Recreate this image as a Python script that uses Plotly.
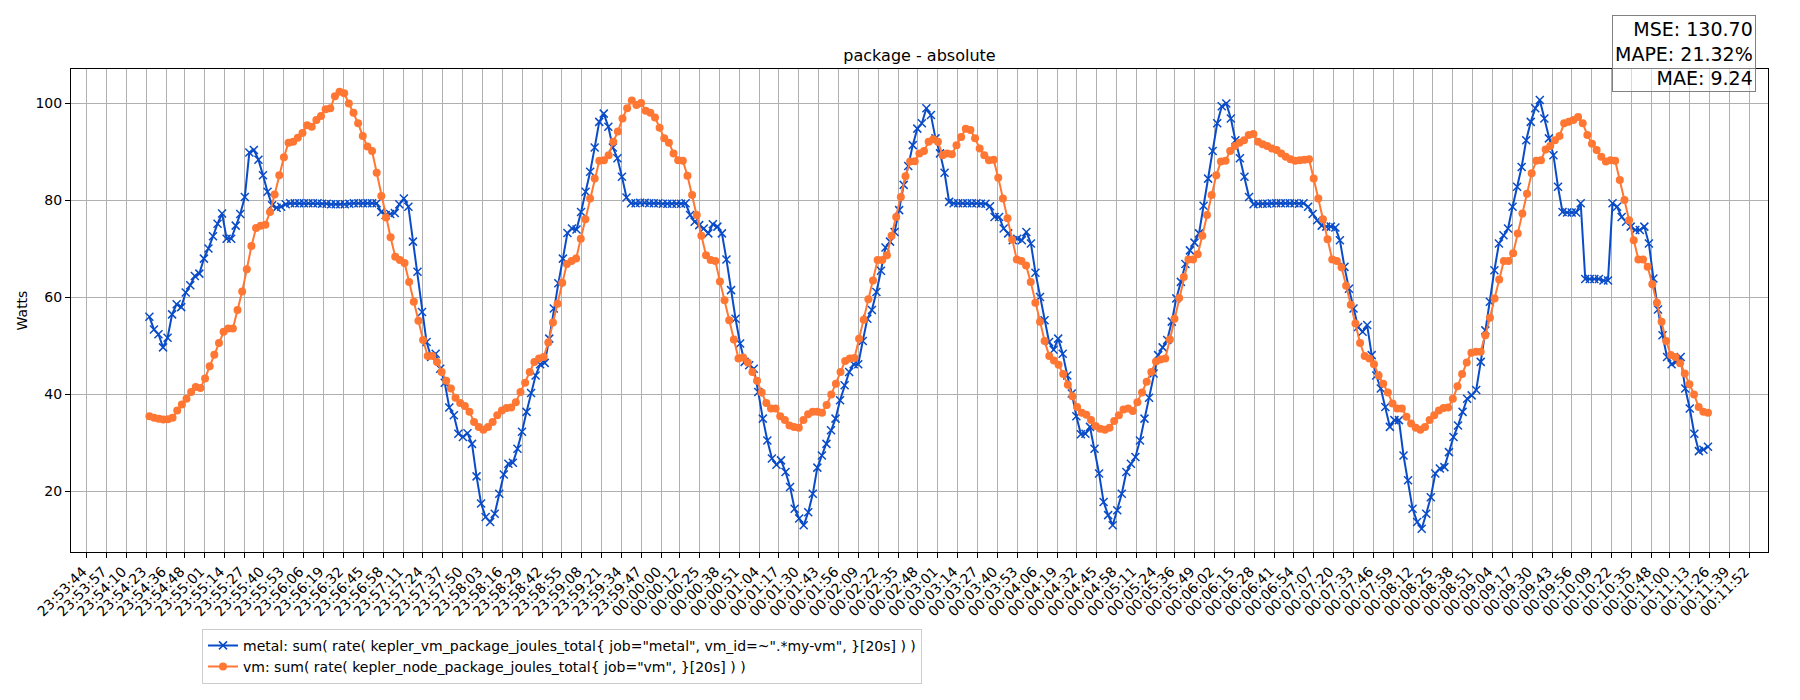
import pandas as pd
import plotly.graph_objects as go

# Textos del grafico
TITLE = "package - absolute"
Y_LABEL = "Watts"
METAL_LABEL = 'metal: sum( rate( kepler_vm_package_joules_total{ job="metal", vm_id=~".*my-vm", }[20s] ) )'
VM_LABEL = 'vm: sum( rate( kepler_node_package_joules_total{ job="vm", }[20s] ) )'
STATS = ["MSE: 130.70", "MAPE: 21.32%", "MAE: 9.24"]

# Ventana de muestreo (las muestras son regulares)
SAMPLE_START = "2024-01-01 23:54:25"
SAMPLE_END = "2024-01-02 00:11:25"
X_RANGE = ["2024-01-01 23:53:33.7", "2024-01-02 00:12:04.3"]
Y_RANGE = [7.5, 107.1]

TICK_LABELS = [
    "23:53:44", "23:53:57", "23:54:10", "23:54:23", "23:54:36", "23:54:48", "23:55:01",
    "23:55:14", "23:55:27", "23:55:40", "23:55:53", "23:56:06", "23:56:19", "23:56:32",
    "23:56:45", "23:56:58", "23:57:11", "23:57:24", "23:57:37", "23:57:50", "23:58:03",
    "23:58:16", "23:58:29", "23:58:42", "23:58:55", "23:59:08", "23:59:21", "23:59:34",
    "23:59:47", "00:00:00", "00:00:12", "00:00:25", "00:00:38", "00:00:51", "00:01:04",
    "00:01:17", "00:01:30", "00:01:43", "00:01:56", "00:02:09", "00:02:22", "00:02:35",
    "00:02:48", "00:03:01", "00:03:14", "00:03:27", "00:03:40", "00:03:53", "00:04:06",
    "00:04:19", "00:04:32", "00:04:45", "00:04:58", "00:05:11", "00:05:24", "00:05:36",
    "00:05:49", "00:06:02", "00:06:15", "00:06:28", "00:06:41", "00:06:54", "00:07:07",
    "00:07:20", "00:07:33", "00:07:46", "00:07:59", "00:08:12", "00:08:25", "00:08:38",
    "00:08:51", "00:09:04", "00:09:17", "00:09:30", "00:09:43", "00:09:56", "00:10:09",
    "00:10:22", "00:10:35", "00:10:48", "00:11:00", "00:11:13", "00:11:26", "00:11:39",
    "00:11:52",
]
Y_TICKS = [20, 40, 60, 80, 100]

METAL_WATTS = [
    56.0, 53.4, 52.4, 49.7, 51.7, 56.5, 58.6, 58.0, 61.0, 62.5,
    64.4, 64.9, 68.0, 70.1, 72.6, 75.2, 77.3, 72.1, 72.1, 74.8,
    77.2, 80.7, 89.9, 90.4, 88.4, 85.2, 81.8, 79.0, 78.5, 78.7,
    79.2, 79.4, 79.4, 79.4, 79.4, 79.4, 79.4, 79.4, 79.3, 79.3,
    79.2, 79.2, 79.2, 79.2, 79.3, 79.4, 79.4, 79.4, 79.4, 79.4,
    79.4, 77.6, 77.0, 77.2, 77.4, 79.2, 80.4, 78.7, 71.5, 65.3,
    57.0, 50.8, 47.7, 48.4, 45.3, 42.4, 37.3, 35.7, 31.9, 31.2,
    32.0, 29.8, 23.1, 17.5, 14.7, 13.7, 15.4, 19.5, 23.5, 25.7,
    25.9, 28.8, 32.3, 36.4, 40.3, 43.9, 46.2, 46.5, 51.5, 57.7,
    62.9, 68.0, 73.3, 74.2, 74.0, 77.6, 81.8, 85.9, 90.9, 96.2,
    97.9, 95.2, 90.9,
    88.7, 84.9, 80.6, 79.4, 79.4, 79.5, 79.5, 79.4, 79.4, 79.4,
    79.3, 79.3, 79.3, 79.3, 79.3, 79.4, 77.0, 75.6, 74.9, 74.2,
    73.2, 75.1, 74.6, 73.2, 67.8, 61.5, 55.6, 50.5, 46.7, 46.0,
    45.3, 40.5, 35.0, 30.5, 26.8, 25.5, 26.4, 24.0, 20.9, 16.4,
    14.4, 13.0,
    15.7, 19.5, 24.9, 27.4, 29.8, 32.6, 35.0, 38.8, 41.9, 44.6,
    46.2, 46.2, 51.0, 55.6, 57.4, 61.1, 65.5, 70.3, 71.5, 73.5,
    78.0, 83.2, 87.1, 91.4, 94.8, 95.9, 99.0, 97.6, 92.8, 89.7,
    85.7, 79.7, 79.4, 79.4, 79.4, 79.4, 79.4, 79.4, 79.3, 79.3,
    78.8, 76.6,
    76.6, 74.2, 73.2, 71.8, 72.1, 71.8, 73.5, 71.1, 65.1, 60.1,
    55.3, 50.8, 49.2, 51.5, 48.4, 43.9, 40.2, 35.5, 31.8, 31.9,
    33.3, 28.8, 23.7, 17.8, 15.1, 13.0, 16.1, 19.5, 24.0, 25.7,
    27.1, 30.5, 35.0, 39.3, 44.3, 48.1, 49.7, 51.2, 55.0, 59.8,
    63.2,
    66.9, 69.7, 71.3, 73.2, 78.9, 84.5, 90.2, 95.9, 99.4, 100.0,
    96.9, 92.4, 88.7, 84.9, 80.7, 79.2, 79.3, 79.3, 79.3, 79.4,
    79.4, 79.4, 79.4, 79.4, 79.4, 79.3, 79.4, 78.7, 77.2, 75.9,
    74.8, 74.6, 74.6, 74.4, 71.8, 66.3, 61.8, 57.7, 53.9, 52.9,
    54.3, 48.1,
    43.9, 41.2, 37.4, 33.3, 34.7, 34.7, 27.4, 22.3, 16.4, 13.7,
    12.3, 15.4, 18.8, 23.7, 24.7, 25.0, 28.1, 31.2, 33.6, 36.4,
    39.1, 39.8, 40.9, 46.7, 53.2, 59.1, 65.6, 71.1, 72.8, 74.2,
    78.7, 82.8, 86.9, 92.4, 96.2, 99.0, 100.7, 96.9, 92.8, 89.3,
    82.8,
    77.6, 77.5, 77.5, 77.5, 79.4, 63.8, 63.8, 63.8, 63.8, 63.5,
    63.5, 79.4, 78.7, 76.6, 75.6, 74.6, 73.9, 73.9, 74.6, 71.1,
    63.9, 57.5, 52.2, 47.7, 46.2, 46.7, 47.7, 41.2, 37.1, 31.9,
    28.3, 28.6, 29.2,
]

VM_WATTS = [
    35.5, 35.2, 35.0, 34.8, 34.9, 35.2, 36.7, 37.9, 39.1, 40.5,
    41.5, 41.3, 43.3, 45.8, 48.2, 50.6, 52.9, 53.6, 53.6, 57.4,
    61.2, 65.8, 70.6, 74.3, 74.8, 75.0, 77.6, 81.2, 85.2, 88.9,
    91.9, 92.1, 92.9, 93.9, 95.5, 95.2, 96.6, 97.4, 98.8, 99.0,
    101.5, 102.4, 102.1, 100.0, 98.1, 95.9, 93.3, 91.1, 90.2, 85.7,
    80.9, 76.5, 72.4, 68.4, 67.7, 67.1, 63.2, 59.1, 55.2, 51.2,
    47.9, 47.9, 46.7, 44.6, 42.8, 41.2, 39.3, 38.2, 37.6, 36.4,
    34.3, 33.3, 32.7, 33.3, 34.3, 35.7, 36.7, 37.2, 37.3, 38.4,
    40.5, 42.4, 44.6, 46.7, 47.4, 47.7, 50.7, 54.8, 58.7, 63.0,
    66.9, 67.5, 68.0, 72.1, 76.1, 80.4, 84.5, 88.2, 88.3, 89.3,
    92.1, 94.2, 96.9,
    99.0, 100.6, 99.7, 100.1, 98.5, 98.1, 97.1, 95.0, 92.8, 91.9,
    89.7, 88.3, 88.2, 85.1, 81.1, 77.0, 72.7, 68.7, 67.7, 67.5,
    63.3, 59.4, 55.3, 51.3, 47.4, 47.6, 46.6, 44.6, 42.8, 40.4,
    38.2, 37.1, 37.1, 35.5, 34.7, 33.6, 33.3, 33.1,
    34.7, 35.9, 36.4, 36.4, 36.2, 37.8, 40.0, 42.2, 44.6, 46.9,
    47.4, 47.5, 51.5, 55.4, 59.6, 63.5, 67.7, 67.7, 68.7, 72.7,
    76.6, 80.7, 85.0, 88.0, 88.1, 89.7, 90.2, 92.1, 92.6, 92.1,
    89.3, 89.7, 89.5, 91.4, 93.1, 94.8, 94.5, 92.8, 90.7, 89.3,
    88.3,
    88.4, 84.7, 80.4, 76.3, 71.9, 67.8, 67.5, 66.6, 63.2, 58.9,
    55.0, 51.0, 47.9, 47.0, 46.1, 44.2, 42.0, 39.6, 37.4, 36.2,
    35.8, 34.7, 33.5, 32.9, 32.7, 33.1, 34.5, 35.7, 36.9, 37.1,
    36.6, 38.4, 40.4, 42.6, 44.6, 46.8, 47.2, 47.4, 51.3, 55.6,
    59.9, 64.2,
    67.8, 67.8, 68.9, 72.7, 77.0, 81.1, 85.2, 88.0, 88.2, 90.2,
    91.2, 91.9, 92.4, 93.5, 93.7, 92.1, 91.6, 91.2, 90.7, 90.4,
    89.7, 89.0, 88.5, 88.2, 88.3, 88.4, 88.5, 84.5, 80.4, 76.1,
    72.0, 67.8, 67.5, 66.2, 62.4, 58.5, 54.6, 50.6, 47.9, 47.4,
    46.2,
    43.9, 42.2, 40.4, 38.1, 37.1, 37.1, 35.4, 34.0, 33.1, 32.7,
    33.3, 34.7, 35.7, 36.7, 37.2, 37.3, 39.1, 41.7, 44.2, 46.6,
    48.6, 48.8, 48.8, 52.2, 55.8, 59.8, 63.7, 67.5, 67.5, 69.1,
    73.2, 77.3, 81.4, 85.6, 88.2, 88.3, 90.5, 91.2, 92.4, 93.3,
    95.9,
    96.2, 96.6, 97.2, 95.9, 93.5, 91.7, 90.4, 89.0, 88.0, 88.3,
    88.2, 84.2, 80.1, 75.9, 71.8, 67.8, 67.8, 66.3, 62.7, 58.9,
    55.0, 51.0, 48.1, 47.7, 46.4, 44.3, 42.1, 40.0, 37.4, 36.4,
    36.2,
]

METAL_COLOR = "#0a4cc8"
VM_COLOR = "#ff7733"
FONT = "DejaVu Sans"

# La pagina deja 8 px de margen (body), se compensa aqui
PAGE_OFFSET = 8


def tick_times(labels):
    """Convierte las etiquetas HH:MM:SS en fechas (cruza la medianoche)"""
    times = []
    for label in labels:
        day = "2024-01-01" if label.startswith("23") else "2024-01-02"
        times.append(pd.Timestamp(f"{day} {label}"))
    return times


def build_figure():
    metal_times = pd.date_range(SAMPLE_START, SAMPLE_END, periods=len(METAL_WATTS))
    vm_times = pd.date_range(SAMPLE_START, SAMPLE_END, periods=len(VM_WATTS))

    fig = go.Figure()
    fig.add_trace(go.Scatter(
        x=metal_times, y=METAL_WATTS, mode="lines+markers", name=METAL_LABEL,
        line=dict(color=METAL_COLOR, width=2),
        marker=dict(symbol="x-thin", size=8, line=dict(color=METAL_COLOR, width=1.5)),
    ))
    fig.add_trace(go.Scatter(
        x=vm_times, y=VM_WATTS, mode="lines+markers", name=VM_LABEL,
        line=dict(color=VM_COLOR, width=2),
        marker=dict(symbol="circle", size=8, color=VM_COLOR),
    ))

    axis_common = dict(
        showline=True, mirror=True, linecolor="black", linewidth=1,
        showgrid=True, gridcolor="#b0b0b0", gridwidth=1,
        ticks="outside", ticklen=5, tickcolor="black",
        tickfont=dict(family=FONT, size=14, color="black"),
        zeroline=False, automargin=False,
    )
    fig.update_xaxes(
        type="date", range=X_RANGE, tickmode="array",
        tickvals=tick_times(TICK_LABELS), ticktext=TICK_LABELS, tickangle=-45,
        ticklabelshift=-4,
        **axis_common,
    )
    fig.update_yaxes(
        range=Y_RANGE, tickmode="array", tickvals=Y_TICKS,
        title=dict(text=Y_LABEL, font=dict(family=FONT, size=14, color="black"), standoff=4),
        **axis_common,
    )

    fig.add_annotation(
        xref="paper", yref="paper", x=0.993, y=1.112, xanchor="right", yanchor="top",
        text="<br>".join(STATS), align="right", showarrow=False,
        font=dict(family=FONT, size=19, color="black"),
        bgcolor="rgba(255,255,255,0.5)", bordercolor="#808080", borderwidth=1, borderpad=2,
    )

    fig.update_layout(
        width=1800, height=700,
        margin=dict(l=71 - PAGE_OFFSET, r=32 + PAGE_OFFSET,
                    t=69 - PAGE_OFFSET, b=148 + PAGE_OFFSET),
        paper_bgcolor="white", plot_bgcolor="white",
        font=dict(family=FONT, size=14, color="black"),
        title=dict(text=TITLE, x=0.5, xref="paper", xanchor="center",
                   y=1 - (55 - PAGE_OFFSET) / 700, yref="container", yanchor="middle",
                   font=dict(family=FONT, size=16, color="black")),
        legend=dict(x=0.0772, y=-0.159, xanchor="left", yanchor="top",
                    bgcolor="white", bordercolor="#cccccc", borderwidth=1,
                    itemwidth=30, tracegroupgap=0,
                    font=dict(family=FONT, size=14, color="black")),
        showlegend=True,
    )
    return fig


if __name__ == "__main__":
    fig = build_figure()
    fig.write_html("out.html")
